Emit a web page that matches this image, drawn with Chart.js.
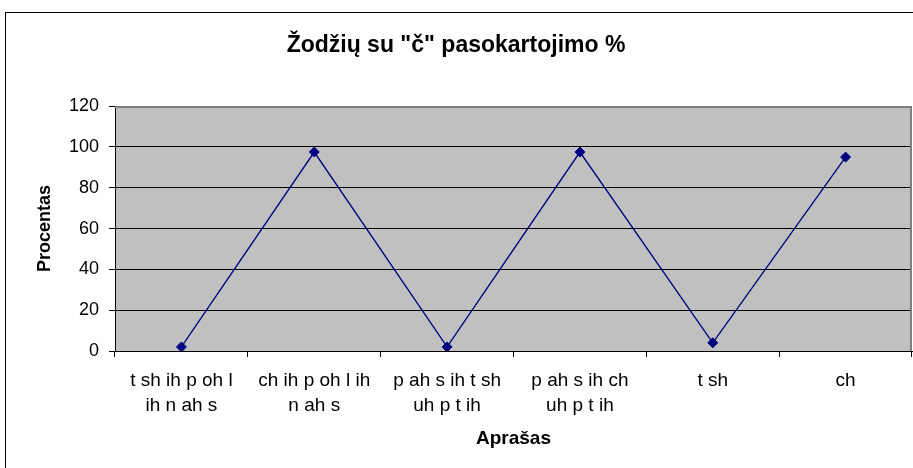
<!DOCTYPE html>
<html lang="lt">
<head>
<meta charset="UTF-8">
<title>Žodžių su "č" pasokartojimo %</title>
<script src="https://cdn.jsdelivr.net/npm/chart.js"></script>
<style>
  html, body { margin: 0; padding: 0; background: #fff; overflow: hidden; }
  canvas { display: block; }
</style>
</head>
<body>
<canvas id="chart" width="913" height="468"></canvas>
<script>
// categories (multi-line where the label wraps)
const categories = [
    ['t sh ih p oh l', 'ih n ah s'],
    ['ch ih p oh l ih', 'n ah s'],
    ['p ah s ih t sh', 'uh p t ih'],
    ['p ah s ih ch', 'uh p t ih'],
    't sh',
    'ch'
];
const percentValues = [2, 97.5, 2, 97.5, 4, 95];
const yMin = 0, yMax = 120, yStep = 20;

const FONT = '"Liberation Sans", Arial, sans-serif';

// white page, outer frame, grey plot area
const frame = {
    id: 'frame',
    beforeDraw(chart) {
        const { ctx, chartArea: a } = chart;
        ctx.save();
        ctx.fillStyle = '#fff';
        ctx.fillRect(0, 0, chart.width, chart.height);
        ctx.strokeStyle = '#000';
        ctx.lineWidth = 1;
        ctx.strokeRect(5.5, 12.5, 1000, 1000);
        ctx.fillStyle = '#c0c0c0';
        ctx.fillRect(a.left, a.top, a.right - a.left, a.bottom - a.top);
        ctx.restore();
    },
    beforeDatasetsDraw(chart) {
        const { ctx, chartArea: a } = chart;
        ctx.save();
        ctx.strokeStyle = '#808080';
        ctx.lineWidth = 2;
        ctx.beginPath();
        ctx.moveTo(a.left, a.top + 1);
        ctx.lineTo(a.right - 1, a.top + 1);
        ctx.lineTo(a.right - 1, a.bottom);
        ctx.stroke();
        ctx.restore();
    }
};

new Chart(document.getElementById('chart'), {
    type: 'line',
    data: {
        labels: categories,
        datasets: [{
            data: percentValues,
            borderColor: '#000080',
            borderWidth: 1.3,
            backgroundColor: '#000080',
            pointStyle: 'rectRot',
            pointRadius: 5,
            pointBorderWidth: 1,
            pointBorderColor: '#000080',
            pointBackgroundColor: '#000080',
            tension: 0,
            fill: false
        }]
    },
    options: {
        responsive: false,
        animation: false,
        layout: { autoPadding: false, padding: { left: 0, right: 1, top: 0, bottom: 0 } },
        plugins: {
            legend: { display: false },
            tooltip: { enabled: false },
            title: {
                display: true,
                text: 'Žodžių su "č" pasokartojimo %',
                color: '#000',
                font: { family: FONT, size: 23, weight: 'bold' },
                padding: { top: 31.5, bottom: 47 }
            }
        },
        scales: {
            x: {
                offset: true,
                afterFit(scale) { scale.height = 117; },
                grid: {
                    offset: true,
                    drawOnChartArea: false,
                    drawTicks: true,
                    tickLength: 6,
                    color: '#000',
                    tickColor: '#000'
                },
                border: { color: '#000', width: 1 },
                ticks: {
                    autoSkip: false,
                    maxRotation: 0,
                    minRotation: 0,
                    padding: 11,
                    color: '#000',
                    font: { family: FONT, size: 19, lineHeight: 1.32 }
                },
                title: {
                    display: true,
                    text: 'Aprašas',
                    color: '#000',
                    font: { family: FONT, size: 19, weight: 'bold' },
                    padding: { top: 0, bottom: 18 }
                }
            },
            y: {
                min: yMin,
                max: yMax,
                afterFit(scale) { scale.width = 115; },
                grid: {
                    color: (c) => (c.tick && c.tick.value === yMax ? '#808080' : '#000'),
                    tickColor: '#000',
                    tickLength: 6,
                    lineWidth: 1
                },
                border: { color: '#000', width: 1 },
                ticks: {
                    stepSize: yStep,
                    padding: 10,
                    color: '#000',
                    font: { family: FONT, size: 18 }
                },
                title: {
                    display: true,
                    text: 'Procentas',
                    color: '#000',
                    font: { family: FONT, size: 18, weight: 'bold' },
                    padding: { top: 34, bottom: 0 }
                }
            }
        }
    },
    plugins: [frame]
});
</script>
</body>
</html>
